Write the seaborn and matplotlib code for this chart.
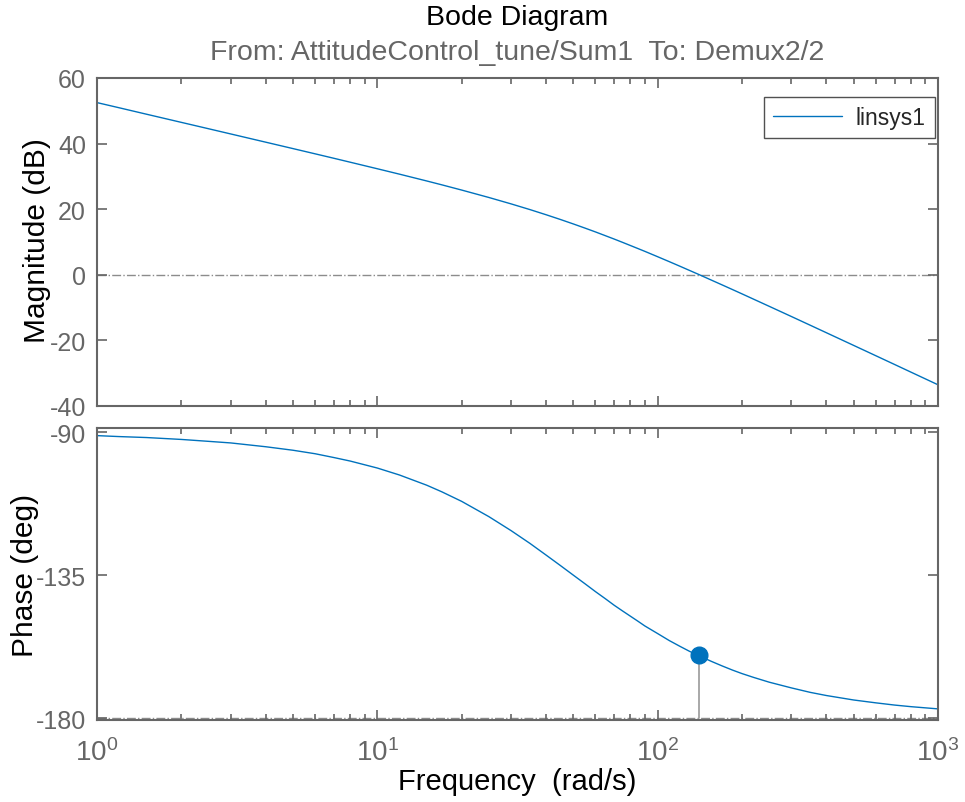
import numpy as np
import pandas as pd
import matplotlib
matplotlib.use("Agg")
import matplotlib.pyplot as plt
import seaborn as sns
from matplotlib.ticker import LogLocator, NullFormatter

# Data
freq = [1, 1.2, 1.5, 2, 2.5, 3, 4, 5, 6, 7, 8, 10, 12, 15, 17, 20, 25, 30, 35, 40,
        45, 50, 55, 60, 65, 70, 75, 85, 90, 100, 110, 120, 130, 140, 155, 170, 185,
        200, 220, 250, 300, 350, 400, 500, 600, 700, 800, 1000]
magnitude_db = [52.5, 50.92, 48.97, 46.47, 44.53, 42.94, 40.43, 38.48, 36.88, 35.52,
                34.33, 32.33, 30.68, 28.61, 27.42, 25.83, 23.57, 21.62, 19.89, 18.31,
                16.86, 15.51, 14.25, 13.07, 11.94, 10.89, 9.88, 8.01, 7.15, 5.51,
                4.01, 2.62, 1.32, 0.12, -1.57, -3.10, -4.51, -5.82, -7.44, -9.61,
                -12.72, -15.37, -17.67, -21.52, -24.67, -27.34, -29.66, -33.53]
phase_deg = [-91.1, -91.4, -91.7, -92.3, -92.9, -93.4, -94.6, -95.7, -96.8, -98.0,
             -99.1, -101.3, -103.5, -106.7, -108.8, -111.8, -116.6, -121.0, -125.0, -128.7,
             -132.0, -135.0, -137.7, -140.2, -142.4, -144.5, -146.3, -149.5, -151.0, -153.4,
             -155.6, -157.4, -159.0, -160.3, -162.1, -163.6, -164.9, -166.0, -167.2, -168.7,
             -170.5, -171.9, -172.9, -174.3, -175.2, -175.9, -176.4, -177.1]
marker_freq = 140
marker_phase = -160.3
mag_ticks = [-40, -20, 0, 20, 40, 60]
phase_ticks = [-180, -135, -90]
series_name = "linsys1"

df = pd.DataFrame({"freq": freq, "mag": magnitude_db, "phase": phase_deg,
                   "system": series_name})

sns.set_style("ticks")
plt.rcParams["font.family"] = ["Liberation Sans", "DejaVu Sans"]
plt.rcParams["mathtext.fontset"] = "custom"
plt.rcParams["mathtext.rm"] = "Liberation Sans"
plt.rcParams["axes.unicode_minus"] = False

blue = "#0072BD"
gray = "#666666"
refgray = "#8c8c8c"

fig = plt.figure(figsize=(9.65, 8.03), dpi=100)
W, H = 965, 803
x0, x1 = 97, 938
ax1 = fig.add_axes([x0 / W, 1 - 407 / H, (x1 - x0) / W, (407 - 79) / H])
ax2 = fig.add_axes([x0 / W, 1 - 721 / H, (x1 - x0) / W, (721 - 429) / H])

sns.lineplot(data=df, x="freq", y="mag", hue="system", palette=[blue], ax=ax1,
             linewidth=1.0, legend=True)
sns.lineplot(data=df, x="freq", y="phase", color=blue, ax=ax2, linewidth=1.0)

for ax in (ax1, ax2):
    ax.set_xscale("log")
    ax.set_xlim(1, 1000)
    ax.xaxis.set_major_locator(LogLocator(base=10, numticks=10))
    ax.xaxis.set_minor_locator(LogLocator(base=10, subs=np.arange(2, 10), numticks=20))
    ax.xaxis.set_minor_formatter(NullFormatter())
    ax.tick_params(which="both", direction="in", top=True, right=True, colors=gray,
                   labelsize=18, width=1.2)
    ax.tick_params(which="major", length=7)
    ax.tick_params(which="minor", length=4)
    ax.tick_params(axis="y", pad=8)
    ax.tick_params(axis="x", pad=13, labelsize=20)
    for s in ax.spines.values():
        s.set_color(gray)
        s.set_linewidth(1.5)
    ax.set_xlabel("")
    ax.set_ylabel("")

ax1.set_ylim(-40, 60)
ax1.set_yticks(mag_ticks)
ax1.tick_params(axis="x", labelbottom=False)
ax1.axhline(0, color=refgray, linestyle="-.", linewidth=1.0, zorder=0)

ax2.set_ylim(-180.6, -88.7)
ax2.set_yticks(phase_ticks)
ax2.axhline(-180, color=refgray, linestyle="-.", linewidth=1.0, zorder=0)
ax2.plot([marker_freq, marker_freq], [-180, marker_phase], color="#999999", linewidth=1.2, zorder=1)
ax2.plot([marker_freq], [marker_phase], "o", color=blue, markersize=12, zorder=3)

leg = ax1.legend(loc="upper right", fontsize=16.5, frameon=True, fancybox=False,
                 edgecolor="#262626", handlelength=3.0, borderpad=0.4,
                 handletextpad=0.6, borderaxespad=0,
                 bbox_to_anchor=(0.9965, 0.942))
leg.get_frame().set_linewidth(1.0)

fig.text(37 / W, 1 - 241 / H, "Magnitude (dB)", rotation=90, ha="center", va="center",
         fontsize=21.5, color="black")
fig.text(25 / W, 1 - 575 / H, "Phase (deg)", rotation=90, ha="center", va="center",
         fontsize=21.5, color="black")
fig.text(517 / W, 1 - 782 / H, "Frequency  (rad/s)", ha="center", va="center",
         fontsize=21, color="black")

fig.text(517 / W, 1 - 18 / H, "Bode Diagram", ha="center", va="center", fontsize=20.5, color="black")
fig.text(517 / W, 1 - 53 / H, "From: AttitudeControl_tune/Sum1  To: Demux2/2",
         ha="center", va="center", fontsize=20.5, color=gray)

fig.savefig("out.png", dpi=100)
